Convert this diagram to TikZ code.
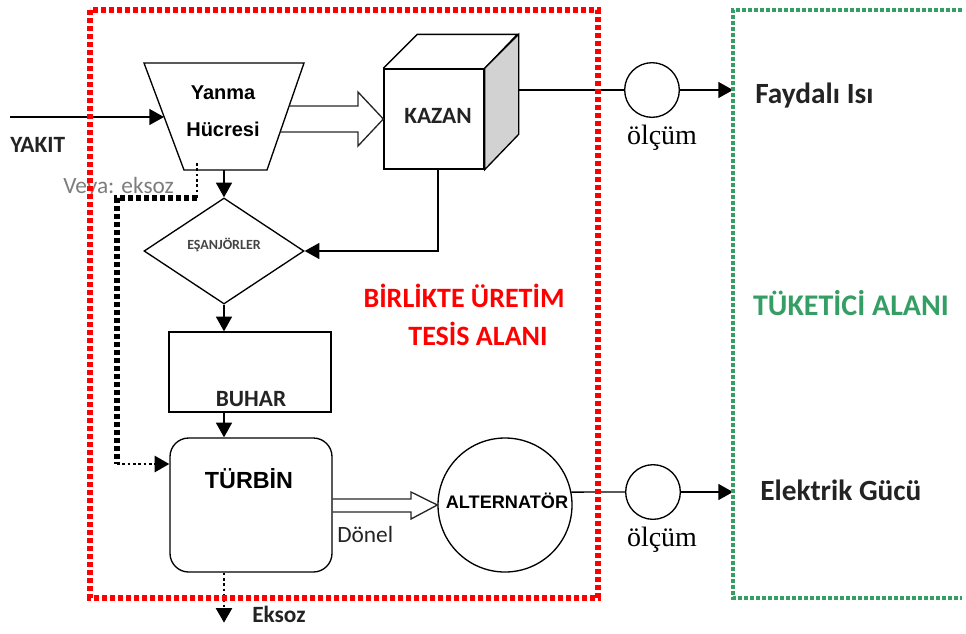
\documentclass[tikz,border=0pt]{standalone}
\usepackage{fontspec}
\setmainfont{Liberation Serif}
\newfontfamily\calfont{Carlito}
\newfontfamily\arfont{Liberation Sans}
\usepackage{tikz}
\usetikzlibrary{arrows.meta,shapes.geometric,positioning}
\tikzset{>={Triangle[length=11pt,width=12pt]}}
\definecolor{alanred}{RGB}{255,0,0}
\definecolor{alangreen}{RGB}{52,158,100}
\definecolor{txtdark}{RGB}{35,35,35}
\definecolor{txtgray}{RGB}{125,125,125}

\begin{document}
\begin{tikzpicture}[x=0.75pt,y=-0.75pt,
              box/.style={draw, line width=1pt, inner sep=0pt},
              meter/.style={draw, line width=1pt, circle, minimum size=41pt, inner sep=0pt},
              flow/.style={line width=1pt, ->},
              hollow/.style={line width=1pt, draw=black!85},
              exhthick/.style={line width=4pt, dash pattern=on 4pt off 2pt},
              exhthin/.style={line width=2pt, dash pattern=on 2pt off 2pt},
              lbl/.style={font=\calfont\bfseries\fontsize{17.5}{20}\selectfont, text=txtdark, inner sep=0pt},
              big/.style={font=\calfont\bfseries\fontsize{22}{24}\selectfont, text=txtdark, inner sep=0pt},
              area/.style={font=\calfont\bfseries\fontsize{21}{24}\selectfont, inner sep=0pt},
              olc/.style={font=\fontsize{21}{24}\selectfont, inner sep=0pt},
             ]
\useasboundingbox (0,0) rectangle (966,633);

% yanma hucresi
\draw[line width=1pt] (144,63) -- (304,63) -- (267,170) -- (184,170) -- cycle;
\node[font=\arfont\bfseries\fontsize{15}{27.75}\selectfont, align=center, inner sep=0pt, anchor=base] (yanma) at (223,136) {Yanma\\Hücresi};
\coordinate (yanmaW) at (164,117);
\coordinate (yanmaS) at (224,170);

% kazan
\node[box, minimum width=75pt, minimum height=75pt] (kazan) at (434,119) {};
\node[lbl, anchor=base] (kazantxt) at (438,123) {KAZAN};
\draw[line width=1pt] (kazan.north west) -- ++(34,-34) -- ++(100,0) -- (kazan.north east);
\filldraw[line width=1pt, fill=gray!35] (kazan.north east) -- ++(34,-34) -- ++(0,100) -- (kazan.south east) -- cycle;
\coordinate (kazanR) at (518,90);
\coordinate (kazanB) at (438,170);

% esanjorler, buhar, turbin
\node[box, diamond, minimum width=120pt, minimum height=79.5pt] (esanjor) at (224,251) {};
\node[font=\calfont\bfseries\fontsize{10.5}{12}\selectfont, text=txtdark!85, inner sep=0pt, anchor=base] (esanjortxt) at (224,249) {EŞANJÖRLER};
\node[box, minimum width=121.5pt, minimum height=60pt] (buhar) at (250,372) {};
\node[lbl, anchor=base] (buhartxt) at (251,406) {BUHAR};
\node[box, rounded corners=14pt, minimum width=121.5pt, minimum height=100.5pt] (turbin) at (251,505) {};
\node[font=\arfont\bfseries\fontsize{17.5}{20}\selectfont, inner sep=0pt, anchor=base] (turbintxt) at (249,488) {TÜRBİN};

% alternator ve olcumler
\node[box, circle, minimum size=100.5pt] (alt) at (505,505) {};
\node[font=\arfont\bfseries\fontsize{13.6}{16}\selectfont, inner sep=0pt, anchor=base] (alttxt) at (507,508) {ALTERNATÖR};
\node[meter] (olc1) at (652,90) {};
\node[meter] (olc2) at (653,492) {};
\node[olc, anchor=base] (olc1txt) at (662,144) {ölçüm};
\node[olc, anchor=base] (olc2txt) at (662,546) {ölçüm};
\coordinate (isi) at (733,90);
\coordinate (elk) at (733,492);

% texts
\node[lbl, anchor=base west] (yakit) at (10,152) {YAKIT};
\node[font=\calfont\fontsize{17.5}{20}\selectfont, text=txtgray, inner sep=0pt, anchor=base west] (veya) at (63,193) {Veya: eksoz};
\node[lbl, font=\calfont\fontsize{17.5}{20}\selectfont, anchor=base west] (donel) at (337,542) {Dönel};
\node[lbl, anchor=base west] (eksoz) at (252,622) {Eksoz};
\node[big, anchor=base west] (faydali) at (755,103) {Faydalı Isı};
\node[big, anchor=base west] (elektrik) at (760,500) {Elektrik Gücü};
\node[area, text=alanred, anchor=base] (birlikte) at (464,307) {BİRLİKTE ÜRETİM};
\node[area, text=alanred, anchor=base] (tesis) at (478,345) {TESİS ALANI};
\node[area, font=\calfont\bfseries\fontsize{22.5}{24}\selectfont, text=alangreen, anchor=base] (tuketici) at (851,315) {TÜKETİCİ ALANI};

% connectors
\draw[flow] (10,117) -- (yanmaW);
\draw[flow] (yanmaS) -- (esanjor.north);
\draw[flow] (esanjor.south) -- (esanjor.south |- buhar.north);
\draw[flow] (buhar.south -| esanjor) -- (turbin.north -| esanjor);
\draw[flow] (kazanB) |- (esanjor.east);
\draw[line width=1pt] (kazanR) -- (olc1.west);
\draw[flow] (olc1.east) -- (isi);
\draw[line width=1pt] (alt.11) -- (olc2.west);
\draw[flow] (olc2.east) -- (elk);
\draw[hollow] (289,106) -- (358,106) -- (358,92) -- (kazan.west) -- (358,146) -- (358,132) -- (280,132);
\draw[hollow] (turbin.east |- 0,499) -- (411,499) -- (411,492) -- (alt.west) -- (411,519) -- (411,512) -- (turbin.east |- 0,512);

% eksoz yollari
\coordinate (ex1) at (197,163);
\coordinate (ex2) at (197,198);
\coordinate (ex3) at (117,198);
\coordinate (ex4) at (117,464);
\draw[exhthin] (ex1) -- (ex2);
\draw[exhthick] (ex2) -- (ex3) -- (ex4);
\draw[exhthin, ->] (ex4) -- (ex4 -| turbin.west);
\draw[exhthin, ->] (turbin.south -| esanjor) -- ++(0,50);

% alanlar
\draw[alanred, line width=4pt, dash pattern=on 4pt off 2pt] (90,10) rectangle (598,598);
\draw[alangreen, line width=3pt, dash pattern=on 3pt off 1.5pt] (962,10) -- (733,10) -- (733,598) -- (962,598);
\end{tikzpicture}
\end{document}
